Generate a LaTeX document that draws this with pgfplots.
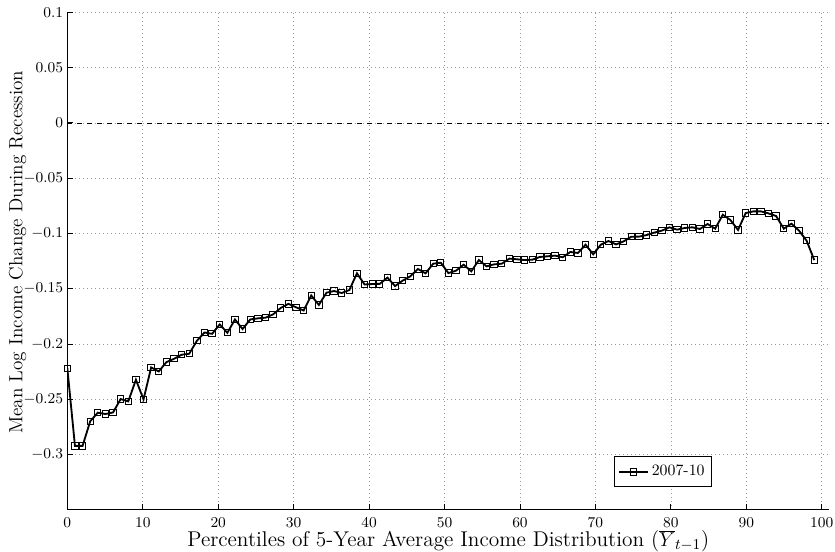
\documentclass[border=0pt]{standalone}
\usepackage{pgfplots}
\pgfplotsset{compat=1.18}

% Mean log income change during the 2007-10 recession, by percentile
\pgfplotstableread{
x      y
0.00  -0.2218
1.01  -0.2920
2.02  -0.2920
3.03  -0.2698
4.04  -0.2620
5.05  -0.2632
6.06  -0.2618
7.07  -0.2497
8.08  -0.2518
9.09  -0.2322
10.10 -0.2500
11.11 -0.2211
12.12 -0.2247
13.13 -0.2163
14.14 -0.2133
15.15 -0.2096
16.16 -0.2087
17.17 -0.1970
18.18 -0.1895
19.19 -0.1907
20.20 -0.1822
21.21 -0.1898
22.22 -0.1777
23.23 -0.1864
24.24 -0.1777
25.26 -0.1767
26.27 -0.1761
27.28 -0.1731
28.29 -0.1673
29.30 -0.1636
30.31 -0.1667
31.32 -0.1696
32.33 -0.1560
33.34 -0.1646
34.35 -0.1535
35.36 -0.1520
36.37 -0.1538
37.38 -0.1511
38.39 -0.1360
39.40 -0.1461
40.41 -0.1457
41.42 -0.1455
42.43 -0.1399
43.44 -0.1475
44.45 -0.1426
45.46 -0.1387
46.47 -0.1321
47.48 -0.1360
48.49 -0.1273
49.50 -0.1264
50.51 -0.1358
51.52 -0.1336
52.53 -0.1282
53.54 -0.1342
54.55 -0.1240
55.56 -0.1297
56.57 -0.1279
57.58 -0.1273
58.59 -0.1227
59.60 -0.1233
60.61 -0.1240
61.62 -0.1237
62.63 -0.1212
63.64 -0.1206
64.65 -0.1200
65.66 -0.1215
66.67 -0.1167
67.68 -0.1176
68.69 -0.1101
69.70 -0.1188
70.71 -0.1101
71.72 -0.1068
72.73 -0.1098
73.74 -0.1071
74.75 -0.1029
75.77 -0.1028
76.78 -0.1014
77.79 -0.0992
78.80 -0.0974
79.81 -0.0944
80.82 -0.0965
81.83 -0.0950
82.84 -0.0944
83.85 -0.0959
84.86 -0.0914
85.87 -0.0956
86.88 -0.0830
87.89 -0.0878
88.90 -0.0968
89.91 -0.0815
90.92 -0.0800
91.93 -0.0800
92.94 -0.0818
93.95 -0.0842
94.96 -0.0956
95.97 -0.0911
96.98 -0.0974
97.99 -0.1065
99.00 -0.1240
}\recession

\begin{document}
\begin{tikzpicture}
\begin{axis}[
  scale only axis,
  width=457.2pt, height=298.6pt,
  at={(0pt,0pt)}, anchor=south west,
  xmin=0, xmax=101, ymin=-0.35, ymax=0.1,
  axis x line=bottom, axis y line=left,
  axis line style={-, black, line width=0.6pt},
  tick align=inside, major tick length=3.5pt,
  tick style={black, line width=0.6pt},
  xtick={0,10,20,30,40,50,60,70,80,90,100},
  ytick={-0.3,-0.25,-0.2,-0.15,-0.1,-0.05,0,0.05,0.1},
  yticklabels={$-0.3$,$-0.25$,$-0.2$,$-0.15$,$-0.1$,$-0.05$,$0$,$0.05$,$0.1$},
  ticklabel style={font=\fontsize{9}{10}\selectfont},
  xticklabel style={yshift=-1pt},
  yticklabel style={xshift=1pt},
  grid=major,
  grid style={dotted, gray!80, line width=0.45pt},
  every axis x label/.style={at={(axis description cs:0.5,-0.0743)}, anchor=base},
  every axis y label/.style={at={(axis description cs:-0.0654,0.518)}, rotate=90, anchor=center},
  xlabel={Percentiles of 5-Year Average Income Distribution ($\overline{Y}_{t-1}$)},
  ylabel={Mean Log Income Change During Recession},
  xlabel style={font=\fontsize{12.8}{14}\selectfont},
  ylabel style={font=\fontsize{11.5}{13}\selectfont},
  legend style={at={(0.8457,0.0456)}, anchor=south east, draw=black,
    line width=0.6pt, font=\fontsize{9.5}{11}\selectfont,
    inner xsep=2pt, inner ysep=3pt},
  legend image post style={line width=1.1pt},
]
\addplot[black, dashed, line width=0.5pt, forget plot] coordinates {(0,0) (101,0)};
\addplot[black, line width=1.1pt, mark=square, mark size=1.9pt,
  mark options={solid, line width=0.6pt, fill=none}] table[x=x, y=y] {\recession};
\addlegendentry{2007-10}
\end{axis}
\pgfresetboundingbox
\useasboundingbox (-40.4pt,-25.2pt) rectangle (460.6pt,306pt);
\end{tikzpicture}
\end{document}
